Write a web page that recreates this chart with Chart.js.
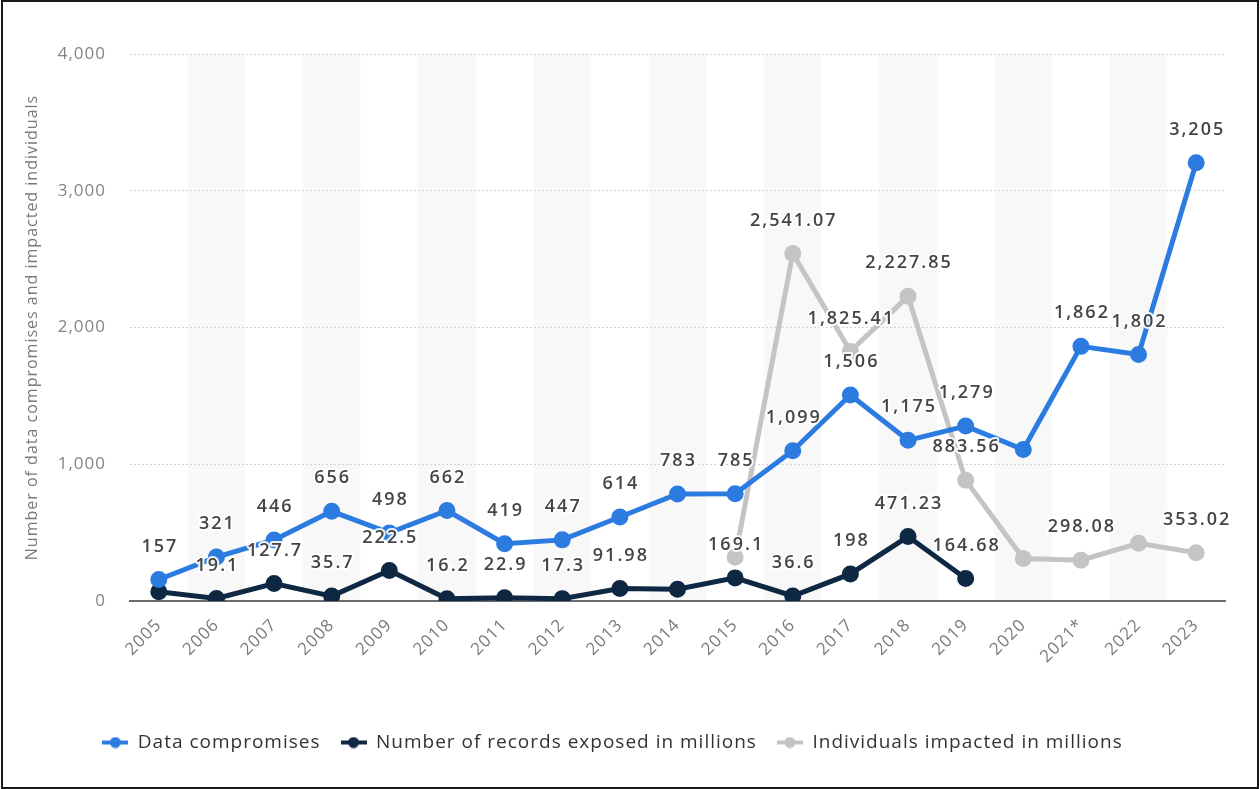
<!DOCTYPE html>
<html>
<head>
<meta charset="utf-8">
<script src="https://cdn.jsdelivr.net/npm/chart.js@4"></script>
<style>
  html, body { margin: 0; padding: 0; background: #fff; }
  #wrap { position: absolute; left: 0; top: 0; width: 1260px; height: 789px; }
  #frame { position: absolute; left: 1px; top: 0px; width: 1254px; height: 785px; border: 2px solid #1a1a1a; pointer-events: none; }
</style>
</head>
<body>
<div id="wrap"><canvas id="myChart" width="1260" height="789"></canvas></div>
<div id="frame"></div>
<script>
const years = ['2005', '2006', '2007', '2008', '2009', '2010', '2011', '2012', '2013', '2014',
  '2015', '2016', '2017', '2018', '2019', '2020', '2021*', '2022', '2023'];
const dataCompromises = [157, 321, 446, 656, 498, 662, 419, 447, 614, 783,
  785, 1099, 1506, 1175, 1279, 1108, 1862, 1802, 3205];
const recordsExposed = [66.9, 19.1, 127.7, 35.7, 222.5, 16.2, 22.9, 17.3, 91.98, 85.61,
  169.1, 36.6, 198, 471.23, 164.68, null, null, null, null];
const individualsImpacted = [null, null, null, null, null, null, null, null, null, null,
  320, 2541.07, 1825.41, 2227.85, 883.56, 310.12, 298.08, 422.14, 353.02];
// labels the original leaves out (they would overlap)
const hiddenCompromiseLabels = ['2020'];
const hiddenRecordLabels = ['2005', '2014'];
const hiddenIndividualLabels = ['2015', '2020', '2022'];

const yTicks = [0, 1000, 2000, 3000, 4000];

const BLUE = '#2b7be0';
const NAVY = '#0e2742';
const GREY = '#c4c4c4';

// small "line with dot" marker for the legend
function legendMarker(color) {
  const c = document.createElement('canvas');
  c.width = 26;
  c.height = 12;
  const g = c.getContext('2d');
  g.strokeStyle = color;
  g.lineWidth = 4;
  g.beginPath();
  g.moveTo(0, 6);
  g.lineTo(26, 6);
  g.stroke();
  g.fillStyle = color;
  g.beginPath();
  g.arc(13, 6, 5.5, 0, Math.PI * 2);
  g.fill();
  return c;
}

// alternating light column bands, drawn before the grid and axes
const bandPlugin = {
  id: 'bands',
  beforeDraw(chart) {
    const { ctx, chartArea, scales } = chart;
    const x = scales.x;
    const w = x.width / years.length;
    ctx.save();
    ctx.fillStyle = '#f8f8f8';
    years.forEach((y, i) => {
      if (i % 2 === 1) {
        const cx = x.getPixelForValue(i);
        ctx.fillRect(cx - w / 2, chartArea.top, w, chartArea.bottom - chartArea.top);
      }
    });
    ctx.restore();
  }
};

// value labels above each point, with a white halo
const valueLabelPlugin = {
  id: 'valueLabels',
  afterDatasetsDraw(chart) {
    const ctx = chart.ctx;
    ctx.save();
    ctx.font = '600 18px "Open Sans", "DejaVu Sans", sans-serif';
    ctx.letterSpacing = '2px';
    ctx.textAlign = 'center';
    ctx.textBaseline = 'middle';
    ctx.lineJoin = 'round';
    chart.data.datasets.forEach((ds, di) => {
      const meta = chart.getDatasetMeta(di);
      meta.data.forEach((pt, i) => {
        const v = ds.data[i];
        if (v === null || v === undefined) return;
        if (ds.hiddenLabels.includes(years[i])) return;
        const txt = v.toLocaleString('en-US', { maximumFractionDigits: 2 });
        const tx = pt.x + 1;
        const ty = pt.y - 33;
        ctx.strokeStyle = 'rgba(255,255,255,0.9)';
        ctx.lineWidth = 4;
        ctx.strokeText(txt, tx, ty);
        ctx.fillStyle = '#454545';
        ctx.fillText(txt, tx, ty);
      });
    });
    ctx.restore();
  }
};

const spacingPlugin = {
  id: 'spacing',
  beforeUpdate(chart) { chart.ctx.letterSpacing = '1px'; },
  beforeDraw(chart) { chart.ctx.letterSpacing = '1px'; }
};

const ctx = document.getElementById('myChart');
new Chart(ctx, {
  type: 'line',
  data: {
    labels: years,
    datasets: [
      {
        label: 'Data compromises',
        data: dataCompromises,
        hiddenLabels: hiddenCompromiseLabels,
        borderColor: BLUE,
        backgroundColor: BLUE,
        borderWidth: 5,
        pointRadius: 6,
        pointHoverRadius: 6,
      },
      {
        label: 'Number of records exposed in millions',
        data: recordsExposed,
        hiddenLabels: hiddenRecordLabels,
        borderColor: NAVY,
        backgroundColor: NAVY,
        borderWidth: 5,
        pointRadius: 6,
        pointHoverRadius: 6,
      },
      {
        label: 'Individuals impacted in millions',
        data: individualsImpacted,
        hiddenLabels: hiddenIndividualLabels,
        borderColor: GREY,
        backgroundColor: GREY,
        borderWidth: 5,
        pointRadius: 6,
        pointHoverRadius: 6,
      },
    ],
  },
  options: {
    responsive: false,
    animation: false,
    layout: {
      padding: { top: 54, left: 0, right: 35, bottom: 27 },
    },
    scales: {
      x: {
        offset: true,
        grid: { display: true, drawOnChartArea: false, drawTicks: false },
        border: { display: true, color: '#6b6b6b', width: 2 },
        ticks: {
          maxRotation: 45,
          minRotation: 45,
          padding: 14,
          color: '#7a7a7a',
          font: { family: '"Open Sans", sans-serif', size: 17 },
        },
        afterFit(scale) { scale.height = 112; },
      },
      y: {
        min: 0,
        max: 4000,
        afterBuildTicks(scale) { scale.ticks = yTicks.map(v => ({ value: v })); },
        grid: { color: '#d4d4d4', lineWidth: 1, drawTicks: false },
        border: { display: false, dash: [2, 2] },
        ticks: {
          padding: 24,
          color: '#858585',
          font: { family: '"Open Sans", sans-serif', size: 17 },
          callback: v => v.toLocaleString('en-US'),
        },
        title: {
          display: true,
          text: 'Number of data compromises and impacted individuals',
          color: '#7a7a7a',
          font: { family: '"Open Sans", sans-serif', size: 16 },
          padding: { top: 23, bottom: 0 },
        },
        afterFit(scale) { scale.width = 130; },
      },
    },
    plugins: {
      legend: {
        position: 'bottom',
        labels: {
          usePointStyle: true,
          pointStyleWidth: 26,
          boxHeight: 12,
          padding: 20,
          color: '#333',
          font: { family: '"Open Sans", sans-serif', size: 19 },
          generateLabels(chart) {
            const items = Chart.defaults.plugins.legend.labels.generateLabels(chart);
            return items.map(it => {
              it.pointStyle = legendMarker(chart.data.datasets[it.datasetIndex].borderColor);
              return it;
            });
          },
        },
      },
      tooltip: { enabled: false },
    },
  },
  plugins: [spacingPlugin, bandPlugin, valueLabelPlugin],
});
</script>
</body>
</html>
